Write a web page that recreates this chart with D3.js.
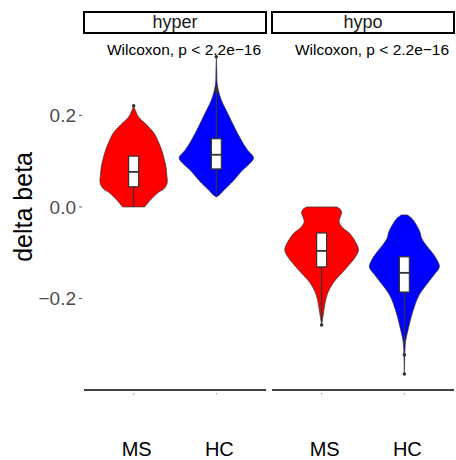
<!DOCTYPE html>
<html>
<head>
<meta charset="utf-8">
<script src="https://cdn.jsdelivr.net/npm/d3@7"></script>
<style>
  body { margin: 0; background: #fff; }
  text { font-family: "Liberation Sans", Arial, sans-serif; }
</style>
</head>
<body>
<svg id="chart" width="456" height="460"></svg>
<script>
// facets and groups
var panels = ["hyper", "hypo"];
var groups = ["MS", "HC"];
var groupColors = ["#FF0000", "#0000FF"];
var yTicks = [-0.2, 0.0, 0.2];
var testLabel = "Wilcoxon, p < 2.2e\u221216";

// violin outlines: [delta beta, relative density]
var hyperMSDensity = [[0.221,0],[0.212,0.04],[0.197,0.13],[0.18,0.34],[0.162,0.54],[0.143,0.66],[0.125,0.75],[0.105,0.82],[0.087,0.87],[0.07,0.89],[0.052,0.9],[0.04,0.82],[0.031,0.65],[0.015,0.45],[0.0,0.30]];
var hyperHCDensity = [[0.328,0],[0.30,0.01],[0.27,0.02],[0.256,0.05],[0.234,0.13],[0.215,0.24],[0.197,0.35],[0.18,0.45],[0.162,0.56],[0.143,0.69],[0.125,0.83],[0.107,1.0],[0.095,0.9],[0.081,0.71],[0.066,0.55],[0.052,0.40],[0.038,0.22],[0.026,0.08],[0.022,0]];
var hypoMSDensity = [[0.0,0.40],[-0.005,0.50],[-0.013,0.54],[-0.022,0.50],[-0.033,0.47],[-0.045,0.56],[-0.057,0.74],[-0.075,0.90],[-0.094,0.99],[-0.11,0.90],[-0.131,0.69],[-0.15,0.48],[-0.166,0.31],[-0.185,0.18],[-0.203,0.11],[-0.232,0.05],[-0.258,0]];
var hypoHCDensity = [[-0.0175,0.08],[-0.025,0.2],[-0.039,0.32],[-0.055,0.42],[-0.068,0.46],[-0.083,0.58],[-0.098,0.73],[-0.115,0.87],[-0.131,0.94],[-0.148,0.80],[-0.164,0.65],[-0.192,0.40],[-0.230,0.22],[-0.265,0.11],[-0.295,0.03],[-0.33,0.01],[-0.365,0]];

// box stats: [lower whisker, q1, median, q3, upper whisker]
var hyperMSBox = [0.0, 0.044, 0.0765, 0.111, 0.111];
var hyperHCBox = [0.022, 0.083, 0.114, 0.149, 0.25];
var hypoMSBox = [-0.252, -0.131, -0.096, -0.057, -0.057];
var hypoHCBox = [-0.30, -0.186, -0.144, -0.109, -0.109];

// outliers
var hyperMSOut = [0.221];
var hyperHCOut = [0.252, 0.256, 0.26, 0.328];
var hypoMSOut = [-0.258];
var hypoHCOut = [-0.323, -0.365];

var density = [[hyperMSDensity, hyperHCDensity], [hypoMSDensity, hypoHCDensity]];
var boxes = [[hyperMSBox, hyperHCBox], [hypoMSBox, hypoHCBox]];
var outliers = [[hyperMSOut, hyperHCOut], [hypoMSOut, hypoHCOut]];

var svg = d3.select("#chart");
var panelLeft = [84, 272], panelWidth = 182;
var panelTop = 33, panelBottom = 390;

var y = d3.scaleLinear().domain([-0.4, 0.38]).range([panelBottom, panelTop]);

// y axis ticks and labels
var yAxis = svg.append("g");
yTicks.forEach(function(t) {
  yAxis.append("line")
    .attr("x1", 79).attr("x2", 82)
    .attr("y1", y(t)).attr("y2", y(t))
    .attr("stroke", "#555").attr("stroke-width", 1);
  yAxis.append("text")
    .attr("x", 76).attr("y", y(t)).attr("dy", "0.35em")
    .attr("text-anchor", "end")
    .attr("font-size", 19).attr("fill", "#4D4D4D")
    .text(t === 0 ? "0.0" : d3.format(".1f")(t).replace("-", "\u2212"));
});

svg.append("text")
  .attr("transform", "translate(32," + y(0) + ") rotate(-90)")
  .attr("text-anchor", "middle")
  .attr("font-size", 25)
  .text("delta beta");

panels.forEach(function(p, pi) {
  var x = d3.scalePoint().domain(groups)
    .range([panelLeft[pi], panelLeft[pi] + panelWidth]).padding(0.6);
  var halfMax = x.step() * 0.45;
  var g = svg.append("g");

  // strip
  g.append("rect")
    .attr("x", panelLeft[pi]).attr("y", 12)
    .attr("width", panelWidth).attr("height", 21)
    .attr("fill", "#fff").attr("stroke", "#000").attr("stroke-width", 2);
  g.append("text")
    .attr("x", panelLeft[pi] + panelWidth / 2).attr("y", 28)
    .attr("text-anchor", "middle").attr("font-size", 18)
    .attr("fill", "#1A1A1A")
    .text(p);

  // test label
  g.append("text")
    .attr("x", panelLeft[pi] + panelWidth / 2 + 9).attr("y", 55)
    .attr("text-anchor", "middle").attr("font-size", 15.5)
    .text(testLabel);

  // bottom axis line
  g.append("line")
    .attr("x1", panelLeft[pi]).attr("x2", panelLeft[pi] + panelWidth)
    .attr("y1", panelBottom).attr("y2", panelBottom)
    .attr("stroke", "#000").attr("stroke-width", 1.5);

  groups.forEach(function(grp, gi) {
    var cx = x(grp);

    // x tick and label
    g.append("line")
      .attr("x1", cx).attr("x2", cx)
      .attr("y1", 393).attr("y2", 394.5)
      .attr("stroke", "#999").attr("stroke-width", 1);
    g.append("text")
      .attr("x", cx + 3).attr("y", 456)
      .attr("text-anchor", "middle").attr("font-size", 20)
      .text(grp);

    // violin
    var area = d3.area()
      .y(function(d) { return y(d[0]); })
      .x0(function(d) { return cx - d[1] * halfMax; })
      .x1(function(d) { return cx + d[1] * halfMax; })
      .curve(d3.curveCatmullRom);
    g.append("path")
      .datum(density[pi][gi])
      .attr("d", area)
      .attr("fill", groupColors[gi])
      .attr("stroke", "#333").attr("stroke-width", 0.7);

    // box plot
    var b = boxes[pi][gi], bw = 10;
    g.append("line")
      .attr("x1", cx).attr("x2", cx)
      .attr("y1", y(b[0])).attr("y2", y(b[1]))
      .attr("stroke", "#333").attr("stroke-width", 1.2);
    g.append("line")
      .attr("x1", cx).attr("x2", cx)
      .attr("y1", y(b[3])).attr("y2", y(b[4]))
      .attr("stroke", "#333").attr("stroke-width", 1.2);
    g.append("rect")
      .attr("x", cx - bw / 2).attr("y", y(b[3]))
      .attr("width", bw).attr("height", y(b[1]) - y(b[3]))
      .attr("fill", "#fff").attr("stroke", "#333").attr("stroke-width", 1.2);
    g.append("line")
      .attr("x1", cx - bw / 2).attr("x2", cx + bw / 2)
      .attr("y1", y(b[2])).attr("y2", y(b[2]))
      .attr("stroke", "#333").attr("stroke-width", 1.8);

    g.selectAll(null)
      .data(outliers[pi][gi])
      .enter().append("circle")
      .attr("cx", cx).attr("cy", function(d) { return y(d); })
      .attr("r", 1.8)
      .attr("fill", "#333");
  });
});
</script>
</body>
</html>
